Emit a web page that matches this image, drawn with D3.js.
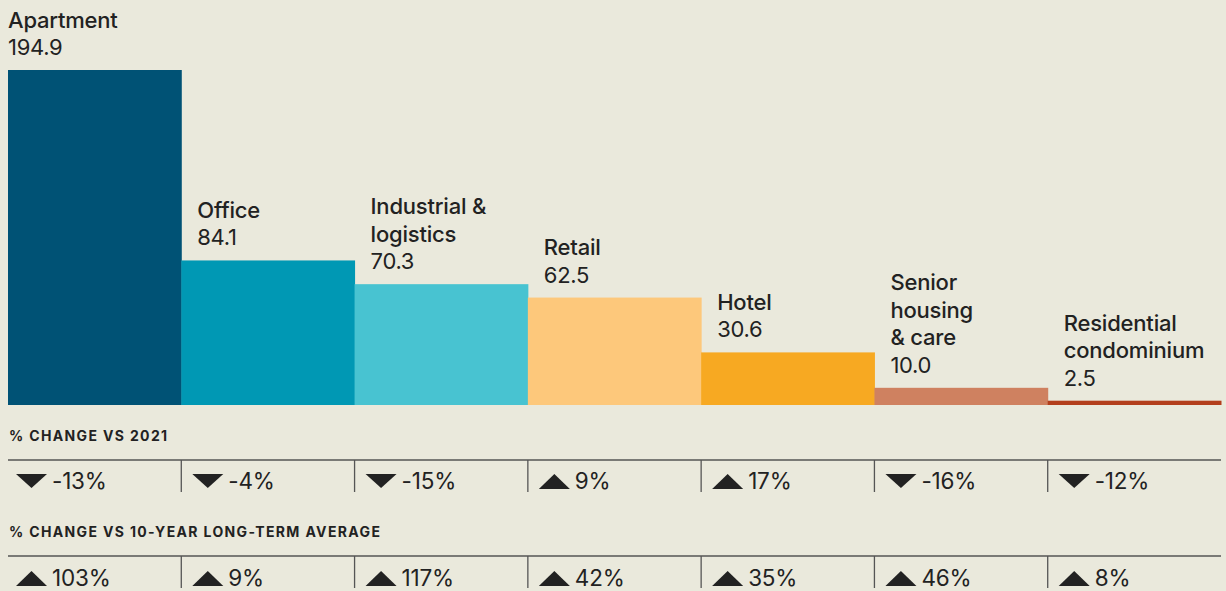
<!DOCTYPE html>
<html>
<head>
<meta charset="utf-8">
<script src="https://cdn.jsdelivr.net/npm/d3@7"></script>
<style>
  body { margin: 0; background: #eae9dc; }
  svg { display: block; font-family: Inter, "Liberation Sans", sans-serif; }
</style>
</head>
<body>
<svg width="1226" height="591"></svg>
<script>
// chart data
const categories = ["Apartment", "Office", "Industrial & logistics", "Retail", "Hotel", "Senior housing & care", "Residential condominium"];
const labelLines = [["Apartment"], ["Office"], ["Industrial &", "logistics"], ["Retail"], ["Hotel"], ["Senior", "housing", "& care"], ["Residential", "condominium"]];
const volumes = [194.9, 84.1, 70.3, 62.5, 30.6, 10.0, 2.5];
const colors = ["#005275", "#0098b4", "#48c3d1", "#fdc87b", "#f7a922", "#cf8160", "#b33f1c"];
const changeVs2021 = [-13, -4, -15, 9, 17, -16, -12];
const changeVsAvg = [103, 9, 117, 42, 35, 46, 8];

const svg = d3.select("svg");
const ink = "#222";

const x = d3.scaleBand().domain(categories).range([8, 1221]).padding(0);
const y = d3.scaleLinear().domain([0, 194.9]).range([405, 70]);

// bars
svg.append("g")
  .selectAll("rect")
  .data(categories)
  .join("rect")
    .attr("x", d => x(d))
    .attr("y", (d, i) => y(volumes[i]))
    .attr("width", x.bandwidth() + 0.5)
    .attr("height", (d, i) => y(0) - y(volumes[i]))
    .attr("fill", (d, i) => colors[i]);

// labels above bars
const lab = svg.append("g")
  .selectAll("g")
  .data(categories)
  .join("g")
    .attr("transform", (d, i) => `translate(${x(d) + (i === 0 ? 0 : 16)},${y(volumes[i]) - 15})`);

lab.append("text")
    .attr("fill", ink)
    .style("font-size", "22px")
    .style("letter-spacing", "-0.3px")
    .text((d, i) => volumes[i].toFixed(1));

lab.each(function(d, i) {
  const lines = labelLines[i];
  d3.select(this).selectAll("text.name")
    .data(lines)
    .join("text")
      .attr("class", "name")
      .attr("y", (l, j) => -27.5 * (lines.length - j))
      .attr("fill", ink)
      .style("font-size", "22px")
      .style("font-weight", 500)
      .style("letter-spacing", "-0.2px")
      .text(l => l);
});

// change rows
const rows = [
  {title: "% CHANGE VS 2021", vals: changeVs2021, line: 460, base: 489},
  {title: "% CHANGE VS 10-YEAR LONG-TERM AVERAGE", vals: changeVsAvg, line: 556, base: 586}
];

rows.forEach(r => {
  const g = svg.append("g");
  g.append("text")
    .attr("x", 9).attr("y", r.line - 19)
    .attr("fill", ink)
    .style("font-size", "14px")
    .style("font-weight", 700)
    .style("letter-spacing", "1.35px")
    .text(r.title);
  g.append("line")
    .attr("x1", 8).attr("x2", 1221)
    .attr("y1", r.line).attr("y2", r.line)
    .attr("stroke", "#555").attr("stroke-width", 1.3);

  const cell = g.selectAll("g.cell")
    .data(categories)
    .join("g")
      .attr("class", "cell")
      .attr("transform", d => `translate(${x(d)},${r.line})`);

  cell.filter((d, i) => i > 0).append("line")
    .attr("x1", 0).attr("x2", 0)
    .attr("y1", 0).attr("y2", 32)
    .attr("stroke", "#555").attr("stroke-width", 1.3);

  cell.append("path")
    .attr("transform", (d, i) => `translate(${i === 0 ? 8 : 11},${r.base - r.line - 15})`)
    .attr("d", (d, i) => r.vals[i] < 0 ? "M0,0L31,0L15.5,14Z" : "M0,15L31,15L15.5,0Z")
    .attr("fill", ink);

  cell.append("text")
    .attr("x", (d, i) => i === 0 ? 44 : 47)
    .attr("y", r.base - r.line)
    .attr("fill", ink)
    .style("font-size", "22.5px")
    .style("letter-spacing", "-0.2px")
    .text((d, i) => r.vals[i] + "%");
});
</script>
</body>
</html>
